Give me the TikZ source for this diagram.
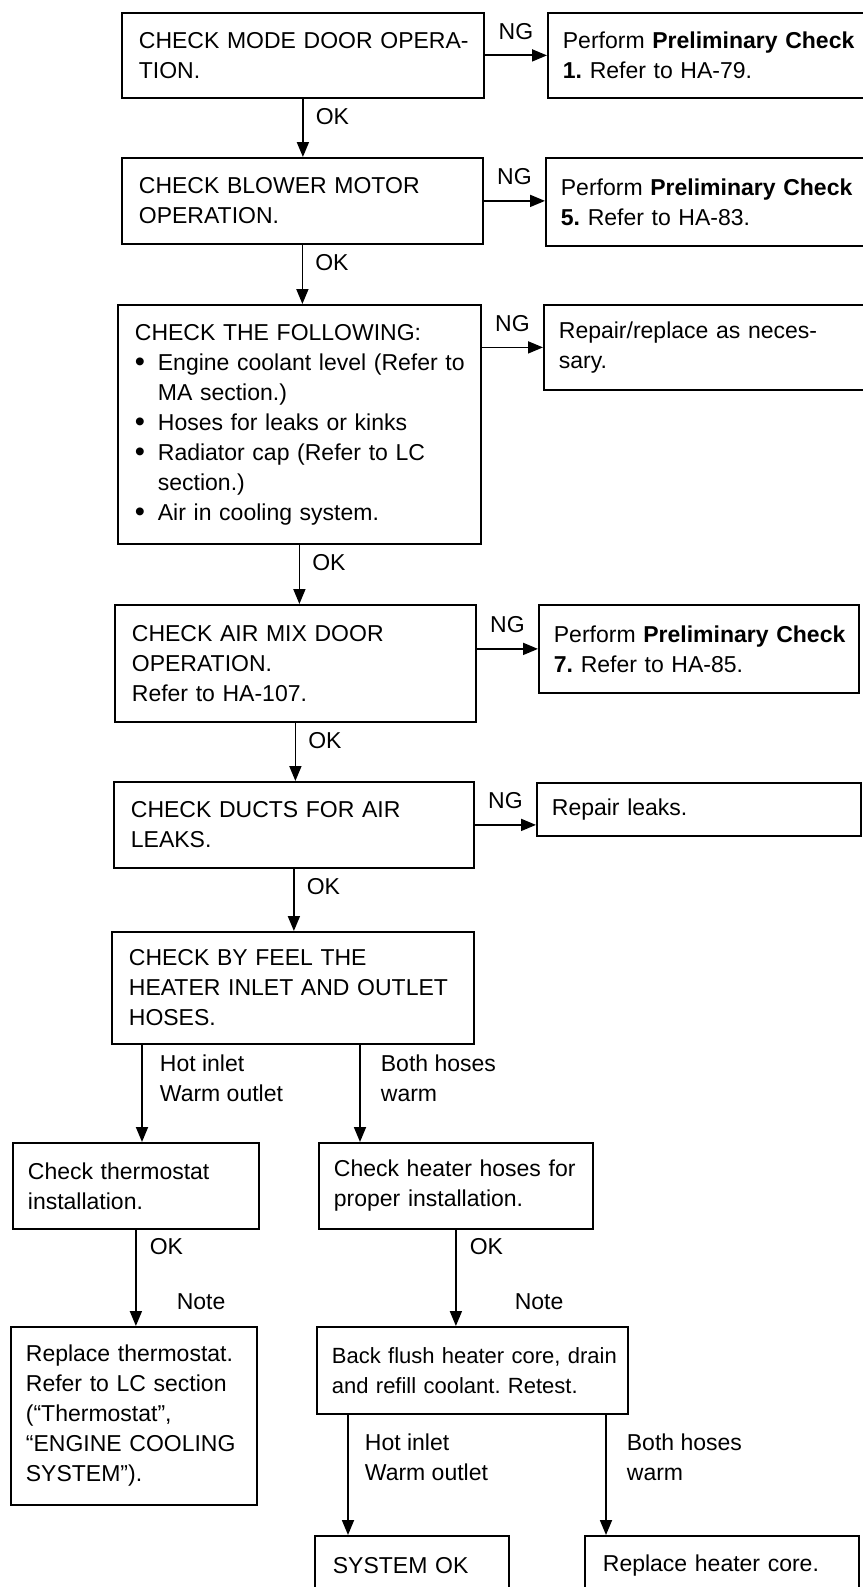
\documentclass[tikz,border=0pt]{standalone}
\usepackage{fontspec}
\setmainfont{Liberation Sans}
\usetikzlibrary{arrows.meta}

\newcommand{\bul}{\makebox[23pt][l]{\fontsize{29}{30}\selectfont\raisebox{-1.5pt}{\textbullet}}}
\newcommand{\ind}{\hspace*{23pt}}

\tikzset{
  box/.style={draw, line width=1.8pt, anchor=north west, align=left, inner xsep=17pt, inner ysep=0pt,
    execute at begin node={\rightskip=0pt plus 1fil minus 80pt}},
  arr/.style={-{Triangle[width=12pt,length=15pt]}, line width=1.8pt},
  lbl/.style={inner sep=0pt, align=left},
}

\begin{document}
\begin{tikzpicture}[x=1pt, y=-1pt, font=\fontsize{23}{30}\selectfont\frenchspacing]
 \useasboundingbox (0,0) rectangle (862,1587);

 % Hauptspalte
 \node[box, text width=328pt, minimum height=85pt] (b1) at (121,12) {CHECK MODE DOOR OPERA-\\TION.};
 \node[box, text width=327pt, minimum height=86pt] (b2) at (121,157) {CHECK BLOWER MOTOR\\OPERATION.};
 \node[box, text width=329pt, minimum height=239pt] (b3) at (117,304) {CHECK THE FOLLOWING:\\
   \bul Engine coolant level (Refer to\\
   \ind MA section.)\\
   \bul Hoses for leaks or kinks\\
   \bul Radiator cap (Refer to LC\\
   \ind section.)\\
   \bul Air in cooling system.};
 \node[box, text width=327pt, minimum height=117pt] (b4) at (114,604) {CHECK AIR MIX DOOR\\OPERATION.\\Refer to HA-107.};
 \node[box, text width=326pt, minimum height=86pt] (b5) at (113,781) {CHECK DUCTS FOR AIR\\LEAKS.};
 \node[box, text width=328pt, minimum height=112pt] (b6) at (111,931) {CHECK BY FEEL THE\\HEATER INLET AND OUTLET\\HOSES.};

 % NG Kaesten rechts
 \node[box, inner xsep=15pt, text width=310pt, minimum height=85pt] (r1) at (547,12) {Perform \textbf{Preliminary Check}\\\textbf{1.} Refer to HA-79.};
 \node[box, inner xsep=15pt, text width=312pt, minimum height=88pt] (r2) at (545,157) {Perform \textbf{Preliminary Check}\\\textbf{5.} Refer to HA-83.};
 \node[box, inner xsep=15pt, text width=314pt, minimum height=85pt] (r3) at (543,304) {Repair/replace as neces-\\sary.};
 \node[box, inner xsep=15pt, text width=290pt, minimum height=88pt] (r4) at (538,604) {Perform \textbf{Preliminary Check}\\\textbf{7.} Refer to HA-85.};
 \node[box, inner xsep=15pt, text width=294pt, minimum height=53pt] (r5) at (536,782) {Repair leaks.};

 % Zweige unten
 \node[box, inner xsep=15pt, text width=216pt, minimum height=86pt] (t1) at (12,1142) {Check thermostat\\installation.};
 \node[box, inner xsep=15pt, text width=216pt, minimum height=178pt] (t2) at (10,1326) {Replace thermostat.\\Refer to LC section\\(“Thermostat”,\\“ENGINE COOLING\\SYSTEM”).};
 \node[box, inner xsep=15pt, text width=244pt, minimum height=86pt] (h1) at (318,1142) {Check heater hoses for\\proper installation.};
 \node[box, inner xsep=15pt, text width=281pt, minimum height=87pt, font=\fontsize{22}{30}\selectfont\frenchspacing] (h2) at (316,1326) {Back flush heater core, drain\\and refill coolant. Retest.};
 \node[box, inner xsep=18pt, text width=158pt, minimum height=60pt] (s1) at (314,1535) {SYSTEM OK};
 \node[box, inner xsep=18pt, text width=238pt, minimum height=60pt] (s2) at (584,1535) {Replace heater core.};

 % OK Pfeile
 \draw[arr] (b1.south) -- (b1.south |- b2.north) node[pos=0, anchor=north west, xshift=12pt, yshift=-9pt, lbl] {OK};
 \draw[arr] (b2.south) -- (b2.south |- b3.north) node[pos=0, anchor=north west, xshift=12pt, yshift=-9pt, lbl] {OK};
 \draw[arr] (b3.south) -- (b3.south |- b4.north) node[pos=0, anchor=north west, xshift=12pt, yshift=-9pt, lbl] {OK};
 \draw[arr] (b4.south) -- (b4.south |- b5.north) node[pos=0, anchor=north west, xshift=12pt, yshift=-9pt, lbl] {OK};
 \draw[arr] (b5.south) -- (b5.south |- b6.north) node[pos=0, anchor=north west, xshift=12pt, yshift=-9pt, lbl] {OK};

 % NG Pfeile
 \draw[arr] (b1.east) -- (b1.east -| r1.west) node[midway, above=15pt, lbl] {NG};
 \draw[arr] (b2.east) -- (b2.east -| r2.west) node[midway, above=15pt, lbl] {NG};
 \draw[arr] (r3.west -| b3.east) -- (r3.west) node[midway, above=15pt, lbl] {NG};
 \draw[arr] (r4.west -| b4.east) -- (r4.west) node[midway, above=15pt, lbl] {NG};
 \draw[arr] (b5.east) -- (b5.east -| r5.west) node[midway, above=15pt, lbl] {NG};

 % Verzweigung nach Gefuehl
 \draw[arr] ([xshift=31pt]b6.south west) -- ([xshift=31pt]b6.south west |- t1.north)
   node[pos=0, anchor=north west, xshift=17pt, yshift=-9pt, lbl] {Hot inlet\\Warm outlet};
 \draw[arr] ([xshift=249pt]b6.south west) -- ([xshift=249pt]b6.south west |- h1.north)
   node[pos=0, anchor=north west, xshift=20pt, yshift=-9pt, lbl] {Both hoses\\warm};
 \draw[arr] (t1.south) -- (t1.south |- t2.north)
   node[pos=0, anchor=north west, xshift=13pt, yshift=-8pt, lbl] {OK}
   node[pos=1, anchor=south west, xshift=40pt, yshift=15pt, lbl] {Note};
 \draw[arr] (h1.south) -- (h1.south |- h2.north)
   node[pos=0, anchor=north west, xshift=13pt, yshift=-8pt, lbl] {OK}
   node[pos=1, anchor=south west, xshift=58pt, yshift=15pt, lbl] {Note};
 \draw[arr] ([xshift=32pt]h2.south west) -- ([xshift=32pt]h2.south west |- s1.north)
   node[pos=0, anchor=north west, xshift=16pt, yshift=-18pt, lbl] {Hot inlet\\Warm outlet};
 \draw[arr] ([xshift=290pt]h2.south west) -- ([xshift=290pt]h2.south west |- s2.north)
   node[pos=0, anchor=north west, xshift=20pt, yshift=-18pt, lbl] {Both hoses\\warm};
\end{tikzpicture}
\end{document}
